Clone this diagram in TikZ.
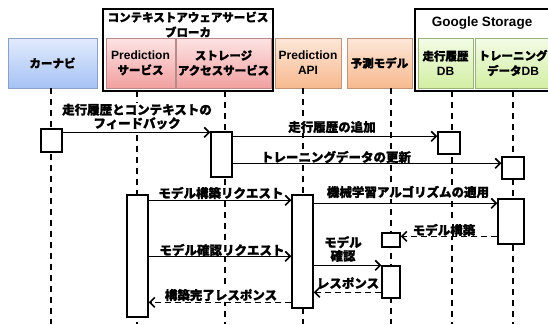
\documentclass[tikz,border=0pt]{standalone}
\usepackage{fontspec}
\setmainfont{Liberation Sans}
\newfontfamily\jp{Noto Sans CJK JP}[BoldFeatures={FakeBold=1.2}]
\usetikzlibrary{arrows.meta,calc}
\definecolor{bluetop}{HTML}{E2EBFC}
\definecolor{bluebot}{HTML}{A6C2F4}
\definecolor{blueline}{HTML}{8AA2C8}
\definecolor{pinktop}{HTML}{FDE3E3}
\definecolor{pinkbot}{HTML}{F2A0A0}
\definecolor{pinkline}{HTML}{B88A8A}
\definecolor{orgtop}{HTML}{FDE7DA}
\definecolor{orgbot}{HTML}{F8B98E}
\definecolor{orgline}{HTML}{C0957A}
\definecolor{grntop}{HTML}{F3FBE6}
\definecolor{grnbot}{HTML}{D2EFA3}
\definecolor{grnline}{HTML}{98B27A}
\begin{document}
\begin{tikzpicture}[x=1pt,y=-1pt,
  hdr/.style={draw, line width=0.6pt, inner sep=1pt, align=center,
    font=\bfseries\fontsize{12}{15}\selectfont},
  hjp/.style={hdr, font=\jp\bfseries\fontsize{11.5}{15}\selectfont},
  bluebox/.style={top color=bluetop, bottom color=bluebot, draw=blueline},
  pinkbox/.style={top color=pinktop, bottom color=pinkbot, draw=pinkline},
  orgbox/.style={top color=orgtop, bottom color=orgbot, draw=orgline},
  grnbox/.style={top color=grntop, bottom color=grnbot, draw=grnline},
  group/.style={draw=black, line width=1.8pt},
  lbl/.style={font=\jp\bfseries\fontsize{12.5}{13.5}\selectfont, inner sep=0.5pt, align=center, fill=white},
  act/.style={draw, fill=white, line width=1.3pt, inner sep=0pt},
  life/.style={line width=1.4pt, dash pattern=on 6pt off 5pt},
  msg/.style={line width=1.6pt, -{Straight Barb[length=5pt,width=10pt,line width=1.6pt]}},
  ret/.style={msg, dash pattern=on 6pt off 4pt},
]
\useasboundingbox (0,0) rectangle (548,324);
\begin{scope}
\clip (0,0) rectangle (548,324);
% group boxes
\draw[group] (103,9) rectangle (273,91);
\draw[group] (415,9) rectangle (560,91);
\node[font=\jp\bfseries\fontsize{11.5}{15}\selectfont, align=center, inner sep=0pt] (ctxt) at (188,24.5) {コンテキストアウェアサービス\\ブローカ};
\node[font=\bfseries\fontsize{13.5}{15}\selectfont, inner sep=0pt] (gst) at (482,23) {Google Storage};
% header boxes
\node[hjp, bluebox, minimum width=89pt, minimum height=50pt] (car) at (52.5,63) {カーナビ};
\node[hdr, pinkbox, minimum width=69pt, minimum height=50pt] (svc) at (140.5,63) {Prediction\\{\jp\fontsize{11.5}{15}\selectfont サービス}};
\node[hjp, pinkbox, minimum width=95pt, minimum height=50pt] (sto) at (223.5,63) {ストレージ\\アクセスサービス};
\node[hdr, orgbox, minimum width=66pt, minimum height=50pt] (api) at (308,63) {Prediction\\API};
\node[hjp, orgbox, minimum width=65pt, minimum height=50pt] (mdl) at (379.5,63) {予測モデル};
\node[hjp, grnbox, minimum width=55pt, minimum height=50pt] (hdb) at (445.5,63) {走行履歴\\{\normalfont\bfseries\fontsize{12}{15}\selectfont DB}};
\node[hjp, grnbox, minimum width=76pt, minimum height=50pt] (tdb) at (513,63) {トレーニング\\データ{\normalfont\bfseries\fontsize{12}{15}\selectfont DB}};
% lifeline ends
\coordinate (ecar) at (51,324);
\coordinate (esvc) at (137,324);
\coordinate (esto) at (225,324);
\coordinate (eapi) at (303,324);
\coordinate (emdl) at (391,324);
\coordinate (ehdb) at (452,324);
\coordinate (etdb) at (513,324);
\draw[life] (ecar |- car.south) -- (ecar);
\draw[life] ([yshift=-3pt]esvc |- svc.south) -- (esvc);
\draw[life] ([yshift=-3pt]esto |- sto.south) -- (esto);
\draw[life] (eapi |- api.south) -- (eapi);
\draw[life] (emdl |- mdl.south) -- (emdl);
\draw[life] ([yshift=-3pt]ehdb |- hdb.south) -- (ehdb);
\draw[life] ([yshift=-3pt]etdb |- tdb.south) -- (etdb);
% labels
\node[lbl] (l1) at (137,116.5) {走行履歴とコンテキストの\\フィードバック};
\node[lbl] (l2) at (332,127) {走行履歴の追加};
\node[lbl] (l3) at (336,157) {トレーニングデータの更新};
\node[lbl] (l4) at (221,193) {モデル構築リクエスト};
\node[lbl] (l5) at (408,192) {機械学習アルゴリズムの適用};
\node[lbl] (l6) at (444,230) {モデル構築};
\node[lbl] (l7) at (222,250) {モデル確認リクエスト};
\node[lbl] (l8) at (343,249) {モデル\\確認};
\node[lbl] (l9) at (348,283) {レスポンス};
\node[lbl] (l10) at (221,295) {構築完了レスポンス};
% activation boxes
\node[act, minimum width=21pt, minimum height=23pt] (acar) at (51.5,140.5) {};
\node[act, minimum width=21pt, minimum height=45pt] (asto) at (221.5,154.5) {};
\node[act, minimum width=22pt, minimum height=22pt] (ahdb) at (449,143) {};
\node[act, minimum width=22pt, minimum height=22pt] (atr1) at (513,168) {};
\node[act, minimum width=21pt, minimum height=122pt] (asvc) at (137.5,256) {};
\node[act, minimum width=21pt, minimum height=113pt] (aapi) at (302.5,251.5) {};
\node[act, minimum width=26pt, minimum height=45pt] (atr2) at (511,221.5) {};
\node[act, minimum width=18pt, minimum height=14pt] (am1) at (391,240) {};
\node[act, minimum width=18pt, minimum height=32pt] (am2) at (391,282) {};
% messages
\draw[msg] ([yshift=-4pt]acar.north east) coordinate (p1) -- (p1 -| asto.west);
\draw[msg] ([yshift=-5pt]asto.north east) coordinate (p2) -- (p2 -| ahdb.west);
\draw[msg] ([yshift=-32pt]asto.north east) coordinate (p3) -- (p3 -| atr1.west);
\draw[msg] ([yshift=-6pt]asvc.north east) coordinate (p4) -- (p4 -| aapi.west);
\draw[msg] ([yshift=-9pt]aapi.north east) coordinate (p5) -- (p5 -| atr2.west);
\draw[ret] ([yshift=-38pt]atr2.north west) coordinate (p6) -- (p6 -| am1.east);
\draw[msg] ([yshift=-62pt]asvc.north east) coordinate (p7) -- (p7 -| aapi.west);
\draw[msg] ([yshift=-71pt]aapi.north east) coordinate (p8) -- (p8 -| am2.west);
\draw[ret] ([yshift=-27pt]am2.north west) coordinate (p9) -- (p9 -| aapi.east);
\draw[ret] ([yshift=-108pt]aapi.north west) coordinate (p10) -- (p10 -| asvc.east);
\end{scope}
\end{tikzpicture}
\end{document}
